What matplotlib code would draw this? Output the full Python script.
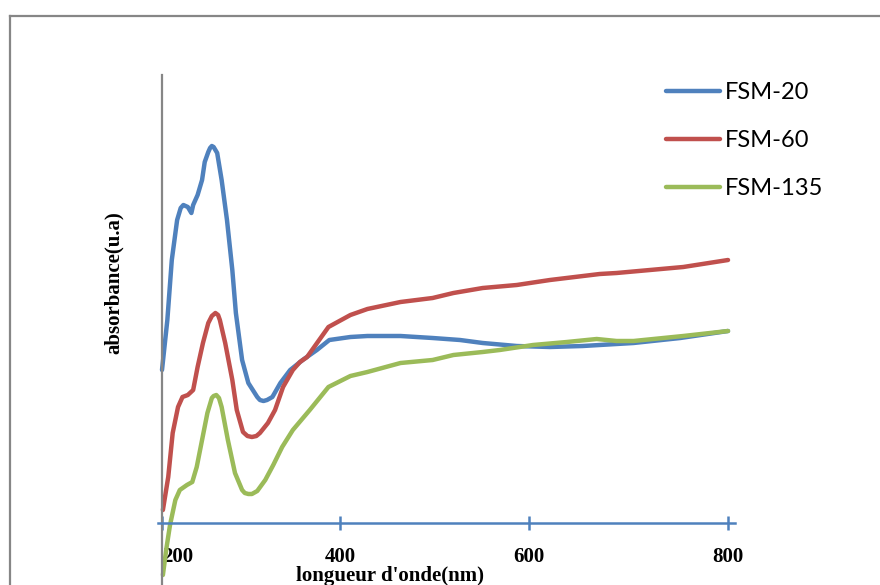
import numpy as np
import matplotlib
matplotlib.use("Agg")
import matplotlib.pyplot as plt
from matplotlib.lines import Line2D

# UV-Vis absorbance spectra of the FSM samples
series_names = ["FSM-20", "FSM-60", "FSM-135"]

fsm20_nm = [200, 206, 211, 217, 221, 224, 229, 233, 235, 240, 245, 248, 252, 254, 256,
            258, 262, 267, 273, 279, 283, 290, 297, 307, 310, 314, 318, 324, 333, 344,
            358, 374, 388, 411, 429, 464, 498, 527, 551, 587, 621, 654, 705, 752, 800]
fsm20_abs = [0.765, 1.015, 1.315, 1.515, 1.575, 1.59, 1.58, 1.55, 1.59, 1.64, 1.715,
             1.805, 1.855, 1.875, 1.885, 1.88, 1.85, 1.715, 1.515, 1.265, 1.05, 0.815,
             0.70, 0.63, 0.615, 0.61, 0.615, 0.63, 0.70, 0.765, 0.815, 0.865, 0.915,
             0.93, 0.935, 0.935, 0.925, 0.915, 0.90, 0.885, 0.88, 0.885, 0.90, 0.925,
             0.96]

fsm60_nm = [201, 207, 212, 218, 223, 229, 235, 240, 246, 252, 256, 260, 263, 265, 271,
            279, 284, 291, 296, 301, 306, 310, 319, 327, 336, 347, 355, 363, 387, 411,
            429, 464, 498, 520, 551, 587, 621, 671, 688, 755, 800]
fsm60_abs = [0.065, 0.23, 0.45, 0.58, 0.63, 0.64, 0.665, 0.78, 0.90, 1.00, 1.035,
             1.05, 1.04, 1.015, 0.90, 0.715, 0.565, 0.455, 0.435, 0.43, 0.435, 0.45,
             0.50, 0.565, 0.68, 0.765, 0.805, 0.83, 0.98, 1.04, 1.07, 1.105, 1.125,
             1.15, 1.175, 1.19, 1.215, 1.245, 1.25, 1.28, 1.315]

fsm135_nm = [201, 205, 209, 215, 220, 228, 234, 239, 245, 251, 256, 258, 261, 264, 267,
             274, 282, 290, 293, 297, 301, 307, 316, 325, 335, 347, 366, 387, 411, 429,
             464, 498, 520, 551, 569, 604, 638, 668, 688, 705, 755, 800]
fsm135_abs = [-0.26, -0.125, -0.01, 0.115, 0.165, 0.19, 0.205, 0.28, 0.415, 0.55,
              0.625, 0.635, 0.64, 0.625, 0.58, 0.415, 0.25, 0.165, 0.15, 0.145, 0.145,
              0.16, 0.215, 0.29, 0.38, 0.465, 0.565, 0.68, 0.735, 0.755, 0.80, 0.815,
              0.84, 0.855, 0.865, 0.89, 0.905, 0.92, 0.91, 0.91, 0.935, 0.96]

x_ticks = [200, 400, 600, 800]
x_tick_labels = ["200", "400", "600", "800"]

colors = ["#4F81BD", "#C0504D", "#9BBB59"]

# Wavelength axis: the tick spacing widens slightly toward the red end
_scale_nm = np.array([0.0, 200.0, 400.0, 600.0, 800.0, 1000.0])
_scale_pos = np.array([-178.0, 0.0, 178.0, 367.0, 566.0, 765.0])


def _fwd(v):
    return np.interp(v, _scale_nm, _scale_pos)


def _inv(v):
    return np.interp(v, _scale_pos, _scale_nm)


W, H = 880, 585
fig = plt.figure(figsize=(W / 100, H / 100), dpi=100)

left, right = 158 / W, 735 / W
top_px, bottom_px = 75, 603
ax = fig.add_axes([left, 1 - bottom_px / H, right - left, (bottom_px - top_px) / H])
ax.set_xscale("function", functions=(_fwd, _inv))

lw = 3.2
for xs, ys, c, name in zip([fsm20_nm, fsm60_nm, fsm135_nm],
                           [fsm20_abs, fsm60_abs, fsm135_abs], colors, series_names):
    ax.plot(xs, ys, color=c, lw=lw, label=name, solid_capstyle="round",
            solid_joinstyle="round", clip_on=False)

ax.set_xlim(195.5, 807)
ax.set_ylim(-0.4, 2.24)

for s in ("top", "right"):
    ax.spines[s].set_visible(False)
ax.spines["left"].set_position(("data", 200))
ax.spines["left"].set_color("#868686")
ax.spines["left"].set_linewidth(1.6)
ax.spines["bottom"].set_position(("data", 0))
ax.spines["bottom"].set_color("#4F81BD")
ax.spines["bottom"].set_linewidth(1.8)

ax.set_yticks([])
ax.set_xticks(x_ticks)
ax.set_xticklabels(x_tick_labels, fontfamily="Liberation Serif", fontweight="bold",
                   fontsize=15)
ax.tick_params(axis="x", direction="inout", length=10, width=1.8, color="#4F81BD",
               pad=12)
ax.get_xticklabels()[0].set_ha("left")

ax.set_xlabel("longueur d'onde(nm)", fontfamily="Liberation Serif",
              fontweight="bold", fontsize=15, va="center")
ax.xaxis.set_label_coords((390 - 158) / 577, (603 - 576) / 528)
ax.set_ylabel("absorbance(u.a)", fontfamily="Liberation Serif",
              fontweight="bold", fontsize=15, va="center")
ax.yaxis.set_label_coords((114 - 158) / 577, (603 - 283) / 528)

leg = ax.legend(loc="upper left", bbox_to_anchor=(666 / W, 1 - 82 / H),
                bbox_transform=fig.transFigure, frameon=False,
                prop={"family": "Lato", "size": 17}, handlelength=2.3,
                handletextpad=0.2, labelspacing=1.15, borderpad=0,
                borderaxespad=0)
for h in leg.get_lines():
    h.set_linewidth(lw)
    h.set_solid_capstyle("round")

# Chart-area frame
frame_col = "#868686"
fig.add_artist(Line2D([10 / W, 1], [1 - 16 / H, 1 - 16 / H], color=frame_col,
                      lw=1.6, transform=fig.transFigure))
fig.add_artist(Line2D([10 / W, 10 / W], [0, 1 - 16 / H], color=frame_col,
                      lw=1.6, transform=fig.transFigure))

fig.savefig("out.png", dpi=100)
